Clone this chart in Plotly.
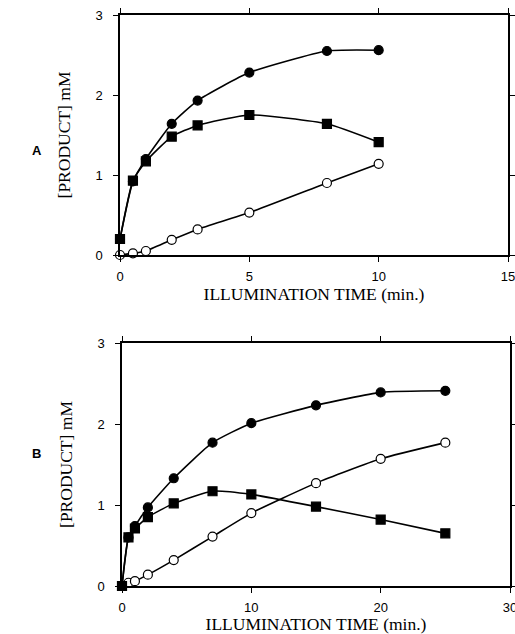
import plotly.graph_objects as go

W, H = 515, 634

# Panel A data
a_t_filled_circle = [0, 0.5, 1, 2, 3, 5, 8, 10]
a_filled_circle = [0.2, 0.92, 1.2, 1.64, 1.93, 2.28, 2.55, 2.56]
a_t_square = [0, 0.5, 1, 2, 3, 5, 8, 10]
a_square = [0.2, 0.93, 1.17, 1.48, 1.62, 1.75, 1.64, 1.41]
a_t_open = [0, 0.5, 1, 2, 3, 5, 8, 10]
a_open = [0.0, 0.02, 0.05, 0.19, 0.32, 0.53, 0.9, 1.14]

# Panel B data
b_t_filled_circle = [0, 0.5, 1, 2, 4, 7, 10, 15, 20, 25]
b_filled_circle = [0.0, 0.6, 0.74, 0.97, 1.33, 1.77, 2.01, 2.23, 2.39, 2.41]
b_t_square = [0, 0.5, 1, 2, 4, 7, 10, 15, 20, 25]
b_square = [0.0, 0.6, 0.71, 0.85, 1.02, 1.17, 1.13, 0.98, 0.82, 0.65]
b_t_open = [0, 0.5, 1, 2, 4, 7, 10, 15, 20, 25]
b_open = [0.0, 0.04, 0.06, 0.14, 0.32, 0.61, 0.9, 1.27, 1.57, 1.77]

y_ticks = [0, 1, 2, 3]
a_x_ticks = [0, 5, 10, 15]
b_x_ticks = [0, 10, 20, 30]
x_title = "ILLUMINATION TIME (min.)"
y_title = "[PRODUCT] mM"
panel_labels = ["A", "B"]

fig = go.Figure()

def add_series(x, y, filled, square, xa, ya):
    fig.add_trace(go.Scatter(
        x=x, y=y, mode="lines+markers", xaxis=xa, yaxis=ya,
        line=dict(color="black", width=1.6, shape="spline", smoothing=0.5),
        marker=dict(symbol="square" if square else "circle", size=9,
                    color="black" if filled else "white",
                    line=dict(color="black", width=1.2)),
        cliponaxis=False, showlegend=False))

add_series(a_t_open, a_open, False, False, "x", "y")
add_series(a_t_square, a_square, True, True, "x", "y")
add_series(a_t_filled_circle, a_filled_circle, True, False, "x", "y")
add_series(b_t_open, b_open, False, False, "x2", "y2")
add_series(b_t_square, b_square, True, True, "x2", "y2")
add_series(b_t_filled_circle, b_filled_circle, True, False, "x2", "y2")

tickfont = dict(family="Liberation Sans, Arial", size=13, color="black")
titlefont = dict(family="Liberation Serif, DejaVu Serif", size=17.5, color="black")

def xaxis(dom, rng, ticks, anchor):
    return dict(domain=dom, range=rng, tickvals=ticks, ticktext=[str(t) for t in ticks],
                showline=True, linecolor="black", linewidth=1.5, mirror="ticks",
                ticks="outside", ticklen=5, tickwidth=1.2, tickcolor="black",
                showgrid=False, zeroline=False, tickfont=tickfont,
                ticklabeloverflow="allow", ticklabelstandoff=4,
                title=dict(text=x_title, font=titlefont, standoff=4),
                anchor=anchor, automargin=False, fixedrange=True)

def yaxis(dom, anchor):
    return dict(domain=dom, range=[0, 3], tickvals=y_ticks, ticktext=[str(t) for t in y_ticks],
                showline=True, linecolor="black", linewidth=1.5, mirror="ticks",
                ticks="outside", ticklen=5, tickwidth=1.2, tickcolor="black",
                showgrid=False, zeroline=False, tickfont=tickfont, ticklabelstandoff=8,
                ticklabeloverflow="allow",
                title=dict(text=y_title, font=titlefont, standoff=20),
                anchor=anchor, automargin=False, fixedrange=True)

fig.update_layout(
    width=W, height=H,
    margin=dict(l=0, r=0, t=0, b=0),
    paper_bgcolor="white", plot_bgcolor="white",
    xaxis=xaxis([120 / W, 508 / W], [0, 15], a_x_ticks, "y"),
    yaxis=yaxis([1 - 255 / H, 1 - 15 / H], "x"),
    xaxis2=xaxis([122 / W, 510 / W], [0, 30], b_x_ticks, "y2"),
    yaxis2=yaxis([1 - 586 / H, 1 - 343 / H], "x2"),
)

labfont = dict(family="Liberation Sans, Arial", size=13, color="black")
fig.add_annotation(text="<b>" + panel_labels[0] + "</b>", x=30 / W, y=1 - 141 / H,
                   xref="paper", yref="paper", showarrow=False, font=labfont)
fig.add_annotation(text="<b>" + panel_labels[1] + "</b>", x=30 / W, y=1 - 463 / H,
                   xref="paper", yref="paper", showarrow=False, font=labfont)

fig.write_html("out.html")
